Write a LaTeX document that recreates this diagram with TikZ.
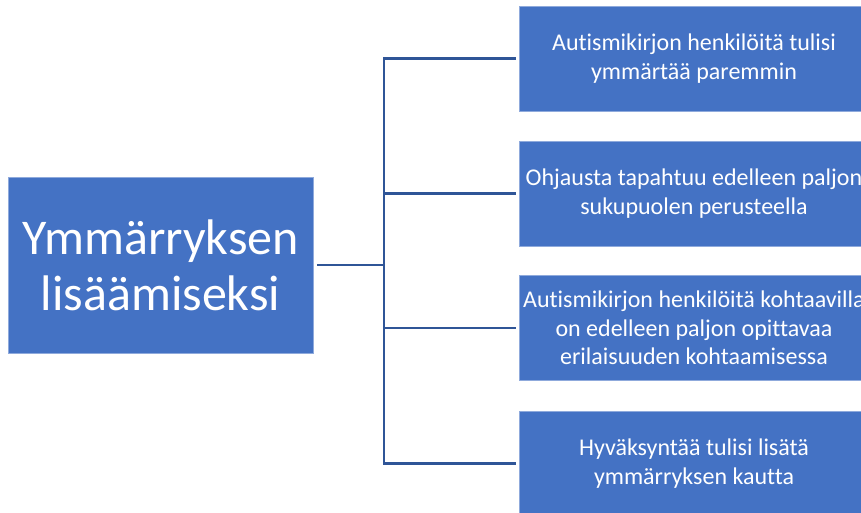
\documentclass[tikz,border=0pt]{standalone}
\usepackage{fontspec}
\setmainfont[Ligatures=NoCommon]{Carlito}
\definecolor{boxblue}{HTML}{4472C4}
\definecolor{lineblue}{HTML}{2F5597}
\begin{document}
\begin{tikzpicture}[x=1pt,y=-1pt,
  mainbox/.style={fill=boxblue, draw=boxblue!60!white, line width=0.6pt, minimum width=305pt, minimum height=176pt, inner sep=0pt, text=white, align=center, font=\fontsize{50}{56}\selectfont},
  itembox/.style={fill=boxblue, draw=boxblue!60!white, line width=0.6pt, minimum width=350pt, minimum height=105pt, inner sep=0pt, text=white, align=center, font=\fontsize{24}{28.5}\selectfont},
  conn/.style={draw=lineblue, line width=2.4pt}]
\useasboundingbox (0,0) rectangle (861,512);
\clip (0,0) rectangle (861,512);
\fill[white] (0,0) rectangle (861,512);
\node[mainbox] (L) at (160.5,265) {Ymmärryksen\\lisäämiseksi};
\node[itembox] (R1) at (694,58.5) {Autismikirjon henkilöitä tulisi\\ymmärtää paremmin};
\node[itembox] (R2) at (694,193.5) {Ohjausta tapahtuu edelleen paljon\\sukupuolen perusteella};
\node[itembox] (R3) at (694,328) {Autismikirjon henkilöitä kohtaavilla\\on edelleen paljon opittavaa\\erilaisuuden kohtaamisessa};
\node[itembox] (R4) at (694,463.5) {Hyväksyntää tulisi lisätä\\ymmärryksen kautta};
\coordinate (J) at (384,265);
\draw[conn, shorten <=4pt] (L.east) -- (J);
\foreach \i in {1,2,3,4} {
  \draw[conn, shorten >=3pt] (J) |- (R\i.west);
}
\end{tikzpicture}
\end{document}
